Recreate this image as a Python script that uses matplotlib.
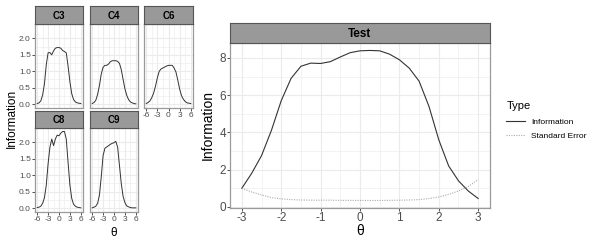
import numpy as np
from matplotlib import pyplot as plt

plt.rcParams['font.family'] = ['Liberation Sans', 'DejaVu Sans']
plt.rcParams['axes.unicode_minus'] = False

W, H = 589, 246

# ---- data: item information per cluster (theta -6..6, step 0.5)
theta_small = np.linspace(-6, 6, 25)
info_c3 = [0.02, 0.04, 0.10, 0.28, 0.62, 1.20, 1.56, 1.57, 1.50, 1.62, 1.70, 1.72, 1.72,
           1.70, 1.63, 1.60, 1.56, 1.15, 0.68, 0.32, 0.14, 0.07, 0.04, 0.03, 0.02]
info_c4 = [0.02, 0.05, 0.12, 0.30, 0.57, 0.92, 1.12, 1.18, 1.18, 1.22, 1.29, 1.32, 1.32,
           1.32, 1.30, 1.24, 1.05, 0.75, 0.47, 0.27, 0.14, 0.07, 0.04, 0.02, 0.01]
info_c6 = [0.02, 0.05, 0.10, 0.20, 0.34, 0.55, 0.80, 1.00, 1.07, 1.10, 1.13, 1.16, 1.18,
           1.18, 1.18, 1.10, 0.98, 0.73, 0.46, 0.26, 0.15, 0.08, 0.04, 0.03, 0.02]
info_c8 = [0.02, 0.03, 0.06, 0.15, 0.32, 0.70, 1.35, 1.85, 2.10, 1.90, 2.10, 2.22, 2.20,
           2.28, 2.33, 2.33, 2.10, 1.38, 0.70, 0.30, 0.12, 0.06, 0.03, 0.02, 0.01]
info_c9 = [0.01, 0.03, 0.06, 0.15, 0.40, 0.96, 1.60, 1.82, 1.86, 1.90, 1.94, 1.97, 1.99,
           2.03, 1.85, 1.30, 0.75, 0.36, 0.17, 0.07, 0.04, 0.02, 0.01, 0.01, 0.01]
clusters = ['C3', 'C4', 'C6', 'C8', 'C9']
cluster_info = [info_c3, info_c4, info_c6, info_c8, info_c9]

# ---- data: test information / standard error (theta -3..3, step 0.25)
theta_test = np.linspace(-3, 3, 25)
test_info = [1.00, 1.80, 2.75, 4.10, 5.70, 6.90, 7.55, 7.72, 7.70, 7.80, 8.05, 8.28, 8.38,
             8.40, 8.38, 8.20, 7.90, 7.45, 6.75, 5.40, 3.60, 2.20, 1.40, 0.85, 0.45]
test_se = [1.00, 0.80, 0.64, 0.50, 0.43, 0.39, 0.37, 0.36, 0.36, 0.36, 0.35, 0.35, 0.345,
           0.345, 0.345, 0.35, 0.36, 0.37, 0.39, 0.45, 0.53, 0.67, 0.85, 1.10, 1.46]

GRID = '#ebebeb'
BORDER = '#9a9a9a'
STRIP = '#999999'
TXT = '#4d4d4d'

fig = plt.figure(figsize=(W / 100, H / 100), dpi=100)
fig.patch.set_facecolor('white')


def px_axes(x0, y0, x1, y1, **kw):
    '''axes from pixel box (top-left origin)'''
    return fig.add_axes([x0 / W, 1 - y1 / H, (x1 - x0) / W, (y1 - y0) / H], **kw)


def strip(x0, y0, x1, y1, label, size):
    sa = px_axes(x0, y0, x1, y1)
    sa.set_facecolor(STRIP)
    sa.set_xticks([])
    sa.set_yticks([])
    for s in sa.spines.values():
        s.set_color('#555555')
        s.set_linewidth(0.8)
    sa.text(0.5, 0.45, label, ha='center', va='center', fontsize=size,
            fontweight='bold', color='black', transform=sa.transAxes)


def style_panel(ax, xmaj, xmin, ymaj, ymin, size, xlab, ylab):
    ax.set_xticks(xmaj)
    ax.set_xticks(xmin, minor=True)
    ax.set_yticks(ymaj)
    ax.set_yticks(ymin, minor=True)
    ax.grid(True, which='major', color=GRID, lw=0.8)
    ax.grid(True, which='minor', color=GRID, lw=0.4)
    ax.set_axisbelow(True)
    for s in ax.spines.values():
        s.set_color(BORDER)
        s.set_linewidth(0.9)
    ax.tick_params(which='major', length=2, width=0.6, color='#333333',
                   labelsize=size, labelcolor=TXT, pad=1)
    ax.tick_params(which='minor', length=0)
    if not xlab:
        ax.tick_params(axis='x', which='major', length=0, labelbottom=False)
    if not ylab:
        ax.tick_params(axis='y', which='major', length=0, labelleft=False)


# ---- small facets
boxes = [(35, 24, 83, 108), (90, 24, 138, 108), (144, 24, 193, 108),
         (35, 128, 83, 212), (90, 128, 138, 212)]
strips = [(35, 6, 83, 24), (90, 6, 138, 24), (144, 6, 193, 24),
          (35, 111, 83, 128), (90, 111, 138, 128)]
show_x = [False, False, True, True, True]
show_y = [True, False, False, True, False]

for name, vals, box, sb, sx, sy in zip(clusters, cluster_info, boxes, strips, show_x, show_y):
    ax = px_axes(*box)
    ax.plot(theta_small, vals, color='#333333', lw=0.7)
    ax.set_xlim(-6.6, 6.6)
    ax.set_ylim(-0.116, 2.436)
    style_panel(ax, [-6, -3, 0, 3, 6], [-4.5, -1.5, 1.5, 4.5],
                [0, 0.5, 1.0, 1.5, 2.0], [0.25, 0.75, 1.25, 1.75], 6, sx, sy)
    if sy:
        ax.set_yticklabels(['0.0', '0.5', '1.0', '1.5', '2.0'])
    strip(*sb, name, 7)

fig.text(12 / W, 1 - 118 / H, 'Information', rotation=90, ha='center', va='center',
         fontsize=8.5, color='black')
fig.text(114 / W, 1 - 233 / H, 'θ', ha='center', va='center', fontsize=8.5, color='black')

# ---- test panel
ax = px_axes(230, 43, 490, 208)
ax.plot(theta_test, test_info, color='#333333', lw=0.8, label='Information')
ax.plot(theta_test, test_se, color='#aaaaaa', lw=0.8, ls=(0, (1, 1.2)), label='Standard Error')
ax.set_xlim(-3.3, 3.3)
ax.set_ylim(-0.06, 8.8)
style_panel(ax, [-3, -2, -1, 0, 1, 2, 3], [-2.5, -1.5, -0.5, 0.5, 1.5, 2.5],
            [0, 2, 4, 6, 8], [1, 3, 5, 7], 8.5, True, True)
ax.set_ylabel('Information', fontsize=10, labelpad=3, color='black')
ax.set_xlabel('θ', fontsize=10, labelpad=0, color='black')
strip(230, 23, 490, 43, 'Test', 8.5)

leg = ax.legend(loc='upper left', bbox_to_anchor=(503 / W, 1 - 98 / H),
                bbox_transform=fig.transFigure, frameon=False, title='Type',
                fontsize=6, title_fontsize=8, handlelength=2.2, handletextpad=0.8,
                labelspacing=0.8, borderaxespad=0)
leg._legend_box.align = 'left'

fig.savefig('out.png', dpi=100)
